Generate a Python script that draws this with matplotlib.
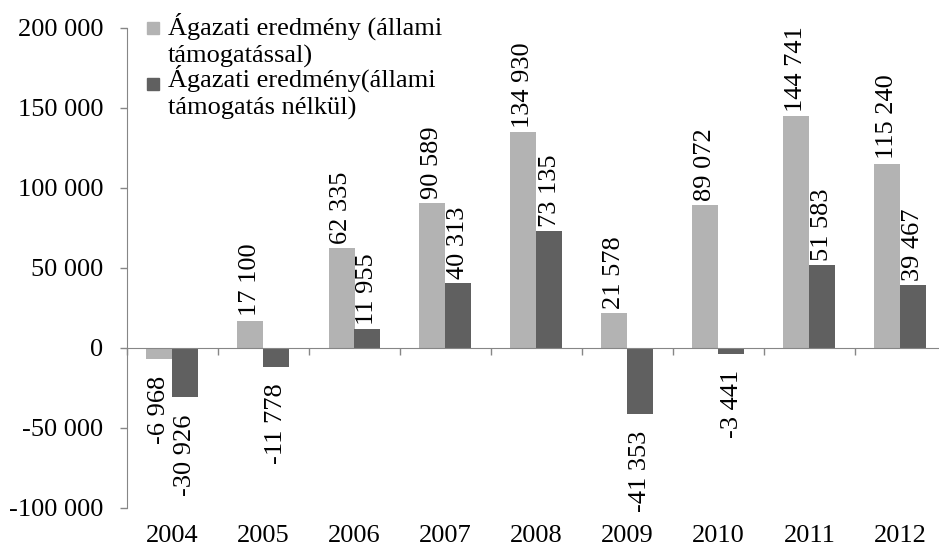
import matplotlib.pyplot as plt
from matplotlib.patches import Rectangle
from matplotlib.ticker import FuncFormatter
import numpy as np

plt.rcParams['font.family'] = ['Liberation Serif', 'DejaVu Serif']
plt.rcParams['axes.unicode_minus'] = False

years = ['2004', '2005', '2006', '2007', '2008', '2009', '2010', '2011', '2012']
with_support = [-6968, 17100, 62335, 90589, 134930, 21578, 89072, 144741, 115240]
without_support = [-30926, -11778, 11955, 40313, 73135, -41353, -3441, 51583, 39467]
label_with = 'Ágazati eredmény (állami\ntámogatással)'
label_without = 'Ágazati eredmény(állami\ntámogatás nélkül)'

c_light = '#b3b3b3'
c_dark = '#606060'
c_axis = '#868686'
fs = 19

def hu_fmt(v, pos=None):
	return f"{v:,.0f}".replace(',', ' ')

fig = plt.figure(figsize=(9.39, 5.49), dpi=100)
ax = fig.add_axes([127/939, 1 - 508/549, 819/939, 480/549])

x = np.arange(len(years))
w = 1 / 3.5
b1 = ax.bar(x - w/2, with_support, w, color=c_light)
b2 = ax.bar(x + w/2, without_support, w, color=c_dark)

for bars in (b1, b2):
	for rect in bars:
		v = rect.get_height()
		if v >= 0:
			ax.annotate(hu_fmt(v), (rect.get_x() + rect.get_width()/2, v), xytext=(0, 3),
				textcoords='offset points', rotation=90, ha='center', va='bottom', fontsize=fs)
		else:
			ax.annotate(hu_fmt(v), (rect.get_x() + rect.get_width()/2, v), xytext=(0, -12),
				textcoords='offset points', rotation=90, ha='center', va='top', fontsize=fs)

ax.set_xlim(-0.5, len(years) - 0.5)
ax.set_ylim(-100000, 200000)
ax.set_yticks(np.arange(-100000, 200001, 50000))
ax.yaxis.set_major_formatter(FuncFormatter(hu_fmt))
ax.tick_params(axis='y', labelsize=fs, length=5, width=1, color=c_axis, pad=12)

# axis line at zero with ticks between categories
for s in ['top', 'right']:
	ax.spines[s].set_visible(False)
ax.spines['left'].set_color(c_axis)
ax.spines['bottom'].set_position(('data', 0))
ax.spines['bottom'].set_color(c_axis)
ax.set_xticks(np.arange(len(years) + 1) - 0.5)
ax.set_xticklabels([])
ax.tick_params(axis='x', length=5, width=1, color=c_axis)

sec = ax.secondary_xaxis('bottom')
sec.set_xticks(x, labels=years)
sec.tick_params(length=0, labelsize=fs, pad=12)
sec.spines['bottom'].set_visible(False)

# legend, Excel style (marker next to first line); y is the last line's baseline
for yc, col, lab, base in [(28, c_light, label_with, 63), (84, c_dark, label_without, 115)]:
	fig.patches.append(Rectangle((147/939, 1 - (yc + 6)/549), 12/939, 12/549,
		transform=fig.transFigure, color=col))
	fig.text(168/939, 1 - base/549, lab, fontsize=fs, va='baseline', ha='left', linespacing=1.3)

fig.savefig('out.png', dpi=100)
